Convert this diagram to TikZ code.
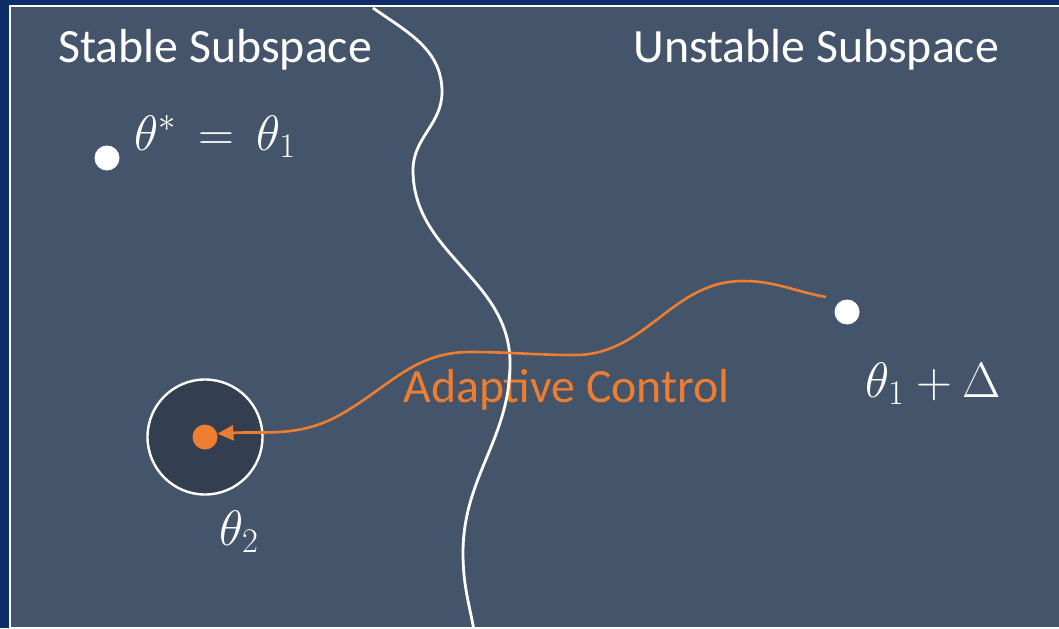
\documentclass[tikz,border=0pt]{standalone}
\usepackage{fontspec}
\setmainfont{Carlito}
\usetikzlibrary{arrows.meta}
\definecolor{slide}{HTML}{0D2E66}
\definecolor{slate}{HTML}{44546A}
\definecolor{well}{HTML}{333F50}
\definecolor{ctrl}{HTML}{ED7D31}

\begin{document}
\begin{tikzpicture}[x=0.5pt,y=0.5pt,
    txt/.style={inner sep=0pt,anchor=base west,font=\fontsize{23.9}{28}\selectfont},
    dot/.style={circle,inner sep=0pt,minimum size=12.5pt}]
\useasboundingbox (0,0) rectangle (1059,628);
\fill[slide] (0,0) rectangle (1059,628);
\filldraw[fill=slate,draw=white,line width=1pt] (9.5,0.5) rectangle (1065,622);

\node[txt,white] (stable) at (58,565) {Stable Subspace};
\node[txt,white] (unstable) at (633,565) {Unstable Subspace};
\node[dot,fill=white] (opt) at (107,470) {};
\node[txt,white] (optlbl) at (134,478) {$\theta^*\,=\,\theta_1$};
\node[dot,fill=white] (shift) at (847,316) {};
\node[txt,white] (shiftlbl) at (865,231) {$\theta_1 + \Delta$};
\node[circle,fill=well,draw=white,line width=1.2pt,minimum size=57.5pt] (basin) at (205,191) {};
\node[dot,fill=ctrl] (goal) at (205,191) {};
\node[txt,white] (goallbl) at (219,83) {$\theta_2$};
\node[txt,ctrl] (adapt) at (403,226) {Adaptive Control};

\draw[white,line width=1.4pt] (373,620) to[out=-35,in=90] (442,536) to[out=-90,in=90] (413,458)
  to[out=-90,in=90] (510,265) to[out=-90,in=90] (463,75) to[out=-90,in=101] (474,-2);

\coordinate (go) at (826,331);
\draw[ctrl,line width=1.3pt,-{Triangle[length=8pt,width=7.5pt]}] (go) to[out=170,in=0] (743,347)
  to[out=180,in=0] (575,273) to[out=180,in=0] (470,276) to[out=180,in=31] (345,216)
  to[out=211,in=3] (goal.15);
\end{tikzpicture}
\end{document}
